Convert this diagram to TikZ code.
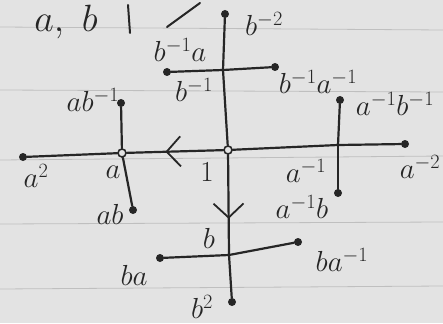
\RequirePackage{fix-cm}
\documentclass[tikz,border=0pt]{standalone}
\usetikzlibrary{arrows.meta, decorations.markings}

\begin{document}
\begin{tikzpicture}[x=1pt, y=-1pt,
        edge/.style={line width=2.2pt, draw=black!85, line cap=round},
        pen/.style={line width=2pt, draw=black!85, line cap=round},
        enddot/.style={circle, fill=black!85, inner sep=0pt, minimum size=8pt},
        vtx/.style={circle, draw=black!85, line width=1.6pt, fill=gray!22, inner sep=0pt, minimum size=8pt},
        cross/.style={inner sep=0pt, minimum size=0pt},
        lbl/.style={font=\fontsize{29}{34}\selectfont, text=black!85, inner sep=1pt},
        rule/.style={draw=gray!50, line width=0.8pt},
        midarrow/.style={postaction={decorate, decoration={markings,
            mark=at position #1 with {\arrow{Straight Barb[length=14pt, width=30pt, line width=1.8pt]}}}}}
    ]

        % ----------------------------------------------------
        % PAPER
        % ----------------------------------------------------
        \fill[gray!22] (0,0) rectangle (443,323);
        \useasboundingbox (0,0) rectangle (443,323);
        \draw[rule] (0,27) -- (443,30);
        \draw[rule] (0,90) -- (443,92);
        \draw[rule] (0,160) -- (443,156);
        \draw[rule] (0,224) -- (443,222);
        \draw[rule] (0,289) -- (443,286);

        % ----------------------------------------------------
        % HEADER
        % ----------------------------------------------------
        \node[lbl, font=\fontsize{38}{44}\selectfont] (gens) at (66,22) {$a,\ b$};
        \coordinate (bartop) at (128,5);
        \coordinate (barbot) at (130,33);
        \draw[pen] (bartop) -- (barbot);
        \coordinate (slashlow) at (167,27);
        \coordinate (slashhigh) at (200,3);
        \draw[pen] (slashlow) -- (slashhigh);

        % ----------------------------------------------------
        % VERTICES
        % ----------------------------------------------------
        \node[vtx] (one) at (228,150) {};
        \node[vtx] (a) at (122,153) {};
        \node[enddot] (aa) at (23,157) {};
        \node[cross] (ai) at (338,145) {};
        \node[enddot] (aiai) at (405,144) {};

        \node[cross] (bi) at (223,70) {};
        \node[enddot] (bibi) at (225,14) {};
        \node[enddot] (bia) at (167,72) {};
        \node[enddot] (biai) at (275,67) {};

        \node[cross] (b) at (229,255) {};
        \node[enddot] (bb) at (232,302) {};
        \node[enddot] (ba) at (160,258) {};
        \node[enddot] (bai) at (298,242) {};

        \node[enddot] (abi) at (121,103) {};
        \node[enddot] (ab) at (133,210) {};
        \node[enddot] (aibi) at (340,100) {};
        \node[enddot] (aib) at (338,193) {};

        % ----------------------------------------------------
        % EDGES
        % ----------------------------------------------------
        % a-axis
        \draw[edge] (aa) -- (a);
        \draw[edge, midarrow=0.6] (one) -- (a);
        \draw[edge] (one) -- (ai);
        \draw[edge] (ai) -- (aiai);

        % b-axis
        \draw[edge] (bibi) -- (bi);
        \draw[edge] (bi) -- (one);
        \draw[edge, midarrow=0.64] (one) -- (b);
        \draw[edge] (b) -- (bb);

        % branches
        \draw[edge] (bia) -- (bi);
        \draw[edge] (bi) -- (biai);
        \draw[edge] (ba) -- (b);
        \draw[edge] (b) -- (bai);
        \draw[edge] (abi) -- (a);
        \draw[edge] (a) -- (ab);
        \draw[edge] (aibi) -- (ai);
        \draw[edge] (ai) -- (aib);

        % ----------------------------------------------------
        % LABELS
        % ----------------------------------------------------
        \node[lbl] at (207,172) {$1$};
        \node[lbl] at (113,172) {$a$};
        \node[lbl] at (36,176) {$a^2$};
        \node[lbl] at (306,171) {$a^{-1}$};
        \node[lbl] at (420,167) {$a^{-2}$};

        \node[lbl] at (194,90) {$b^{-1}$};
        \node[lbl] at (264,24) {$b^{-2}$};
        \node[lbl] at (180,50) {$b^{-1}a$};
        \node[lbl] at (318,82) {$b^{-1}a^{-1}$};

        \node[lbl] at (209,238) {$b$};
        \node[lbl] at (202,307) {$b^2$};
        \node[lbl] at (134,275) {$ba$};
        \node[lbl] at (342,260) {$ba^{-1}$};

        \node[lbl] at (93,100) {$ab^{-1}$};
        \node[lbl] at (110,214) {$ab$};
        \node[lbl] at (395,104) {$a^{-1}b^{-1}$};
        \node[lbl] at (302,207) {$a^{-1}b$};

    \end{tikzpicture}
\end{document}
